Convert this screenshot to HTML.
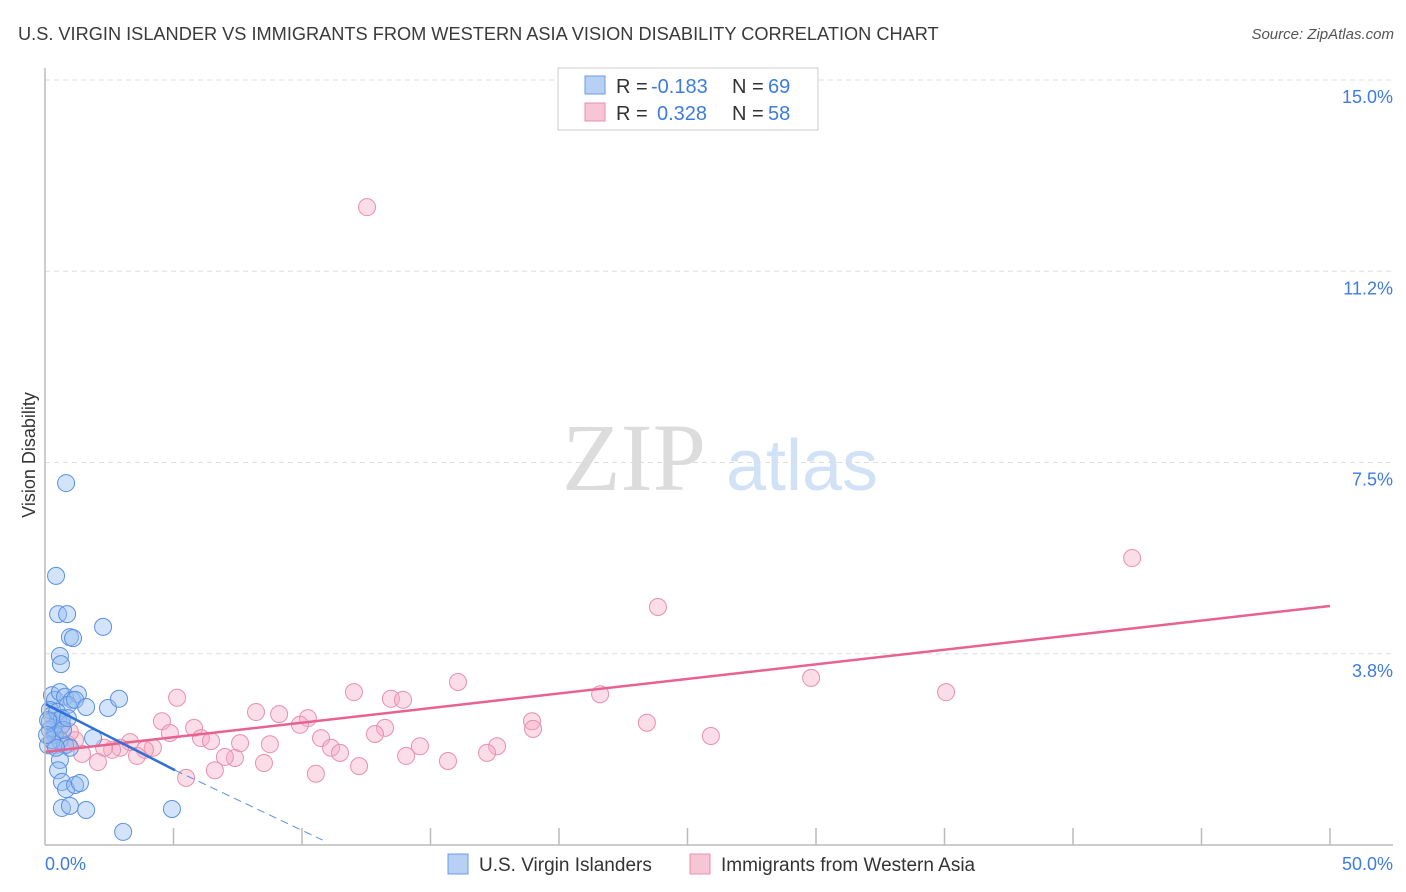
<!DOCTYPE html>
<html><head><meta charset="utf-8"><style>
body{margin:0;background:#fff;font-family:"Liberation Sans",sans-serif;}
#wrap{position:relative;width:1406px;height:892px;overflow:hidden;}
</style></head><body>
<div id="wrap">
<svg id="svg" width="1406" height="892" xmlns="http://www.w3.org/2000/svg">
<text x="18" y="40" font-size="18.2" fill="#3a3a3a">U.S. VIRGIN ISLANDER VS IMMIGRANTS FROM WESTERN ASIA VISION DISABILITY CORRELATION CHART</text>
<text x="1394" y="39" font-size="15" fill="#555" font-style="italic" text-anchor="end">Source: ZipAtlas.com</text>
<text x="634" y="490" font-size="96" fill="#dcdcdc" font-family="Liberation Serif,serif" text-anchor="middle">ZIP</text>
<text x="802" y="490" font-size="72" fill="#d2e2f6" text-anchor="middle">atlas</text>
<text transform="translate(35,455) rotate(-90)" font-size="18" fill="#333" text-anchor="middle">Vision Disability</text>
<g id="grid"></g><g id="pink"></g><g id="blue"></g><g id="lines"></g>
<line x1="45" y1="68" x2="45" y2="845" stroke="#bbb" stroke-width="1.5"/>
<line x1="45" y1="845" x2="1393" y2="845" stroke="#bbb" stroke-width="1.5"/>
<text x="45" y="870" font-size="18" fill="#3d7be0">0.0%</text>
<text x="1393" y="870" font-size="18" fill="#3d7be0" text-anchor="end">50.0%</text>
<g>
<rect x="558" y="68" width="260" height="62" fill="#fff" stroke="#ccc"/>
<rect x="585" y="76" width="20" height="18" fill="#b7d0f3" stroke="#6a9be0"/>
<rect x="585" y="103" width="20" height="18" fill="#f8c5d5" stroke="#e890ac"/>
<text x="616" y="93" font-size="20" fill="#333">R =</text>
<text x="651" y="93" font-size="20" fill="#3d7be0">-0.183</text>
<text x="732" y="93" font-size="20" fill="#333">N =</text>
<text x="768" y="93" font-size="20" fill="#3d7be0">69</text>
<text x="616" y="120" font-size="20" fill="#333">R =</text>
<text x="657" y="120" font-size="20" fill="#3d7be0">0.328</text>
<text x="732" y="120" font-size="20" fill="#333">N =</text>
<text x="768" y="120" font-size="20" fill="#3d7be0">58</text>
</g>
<g>
<rect x="448" y="854" width="20" height="20" fill="#b7d0f3" stroke="#6a9be0"/>
<text x="479" y="871" font-size="19" fill="#333">U.S. Virgin Islanders</text>
<rect x="690" y="854" width="20" height="20" fill="#f8c5d5" stroke="#e890ac"/>
<text x="721" y="871" font-size="19" fill="#333">Immigrants from Western Asia</text>
</g>
</svg>
</div>
<script>
const yTicks=[3.75,7.5,11.25,15];
const yTickLabels=["3.8%","7.5%","11.2%","15.0%"];
const xTicks=[5,10,15,20,25,30,35,40,45,50];
const blueX=[.43,.51,.86,.97,1.09,2.26,.58,.62,.82,.27,.39,.58,.78,1.05,1.28,.89,1.17,1.60,2.45,2.88,.19,.27,.51,.66,.19,.39,.58,.12,.78,.97,.31,.19,.47,.66,1.87,.58,.51,.66,.82,1.17,1.36,.66,.97,1.60,4.94,3.04,.12,.27,.43,.70,.89,.08];
const blueY=[5.61,4.86,4.86,4.41,4.39,4.61,4.04,3.88,7.43,3.27,3.18,3.33,3.24,3.18,3.29,3.08,3.18,3.04,3.02,3.20,2.98,2.88,2.78,2.69,2.59,2.49,2.39,2.29,2.29,2.24,2.63,2.75,2.94,2.82,2.43,2.00,1.80,1.57,1.43,1.51,1.55,1.06,1.10,1.02,1.04,.59,2.78,2.39,2.24,2.59,2.82,2.49];
const pinkX=[12.53,42.30,23.85,29.81,35.06,21.60,16.07,12.02,13.46,13.93,5.14,8.21,9.11,10.23,18.95,18.99,23.42,4.55,5.80,13.23,9.92,12.84,25.91,4.86,6.07,6.46,7.59,8.75,10.74,11.13,11.48,14.59,17.59,17.20,14.05,15.68,12.22,8.52,7.39,7.00,6.61,10.54,5.49,3.31,2.92,2.61,2.30,2.06,1.44,1.17,.89,.58,.39,4.20,3.89,3.58,.97];
const pinkY=[12.84,5.96,5.00,3.61,3.33,3.29,3.53,3.33,3.20,3.18,3.22,2.94,2.90,2.82,2.76,2.61,2.73,2.76,2.63,2.63,2.69,2.51,2.47,2.53,2.43,2.37,2.33,2.31,2.43,2.24,2.14,2.27,2.27,2.14,2.08,1.98,1.88,1.94,2.04,2.06,1.80,1.73,1.65,2.35,2.24,2.20,2.24,1.96,2.12,2.39,2.31,2.63,2.29,2.24,2.20,2.08,2.55];
const pinkTrend=[2.16,5.02];
const blueTrend=[3.10,1.80,0.43];
const blueTrendX=[0,5.06,10.8];
const NS="http://www.w3.org/2000/svg";
function xs(v){return 45+v*25.7;}
function ys(v){return 862-v*51;}
function gy(v){return 845-v*51;}
function mk(tag,attrs,parent){const e=document.createElementNS(NS,tag);for(const k in attrs)e.setAttribute(k,attrs[k]);document.getElementById(parent).appendChild(e);return e;}
yTicks.forEach((t,i)=>{
 const l=mk('line',{x1:45,x2:1393,y1:gy(t),y2:gy(t),stroke:'#ddd','stroke-dasharray':'5,4'},'grid');
 
 
 const tx=mk('text',{x:1393,y:gy(t)+23,'font-size':18,fill:'#3d7be0','text-anchor':'end'},'grid');
 tx.textContent=yTickLabels[i];
 
 
});
xTicks.forEach(t=>{
 const l=mk('line',{x1:xs(t),x2:xs(t),y1:845,y2:828,stroke:'#bbb','stroke-width':1.5},'grid');
 
 
});
pinkX.forEach((x,i)=>{
 const c=mk('circle',{cx:xs(x),cy:ys(pinkY[i]),r:8.5,fill:'rgba(244,170,195,0.4)',stroke:'#e890ac','stroke-width':1},'pink');
 
 
});
blueX.forEach((x,i)=>{
 const c=mk('circle',{cx:xs(x),cy:ys(blueY[i]),r:8.5,fill:'rgba(150,188,240,0.42)',stroke:'#5b91e0','stroke-width':1},'blue');
 
 
});
const pl=mk('line',{x1:xs(0),y1:ys(pinkTrend[0]),x2:xs(50),y2:ys(pinkTrend[1]),stroke:'#e8628e','stroke-width':2.5},'lines');


const bl=mk('line',{x1:xs(blueTrendX[0]),y1:ys(blueTrend[0]),x2:xs(blueTrendX[1]),y2:ys(blueTrend[1]),stroke:'#2f6fd6','stroke-width':2.5},'lines');


const bd=mk('line',{x1:xs(blueTrendX[1]),y1:ys(blueTrend[1]),x2:xs(blueTrendX[2]),y2:ys(blueTrend[2]),stroke:'#5b8fe0','stroke-width':1,'stroke-dasharray':'8,5'},'lines');


</script>
</body></html>
